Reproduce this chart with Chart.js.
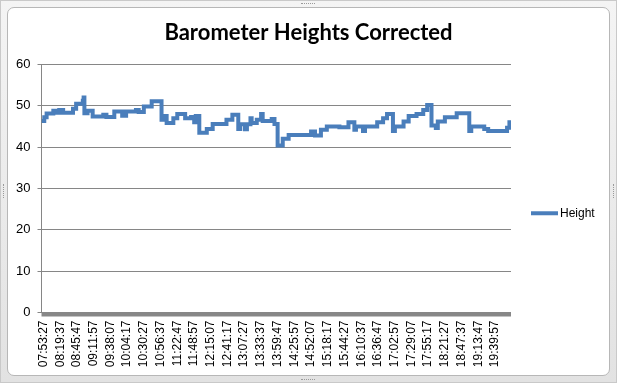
<!DOCTYPE html>
<html>
<head>
    <title>Barometer Heights Corrected</title>
    <script src="https://cdn.jsdelivr.net/npm/chart.js"></script>
    <style>
        html, body { margin: 0; padding: 0; }
        body { width: 617px; height: 383px; position: relative; overflow: hidden; background: #e9e9e9; }
        .frame {
            position: absolute; left: 0; top: 0; width: 615px; height: 381px;
            border: 1px solid #c9c9c9;
            background: linear-gradient(#f4f4f4, #e2e2e2);
        }
        .inner {
            position: absolute; left: 7px; top: 7px; width: 601px; height: 367px;
            background: #fff; border: 1px solid #b7b7b7; border-radius: 7px;
        }
        .grip { position: absolute; border-top: 1px dotted #9a9a9a; width: 14px; height: 0; }
        .grip.v { border-top: none; border-left: 1px dotted #9a9a9a; width: 0; height: 14px; }
        #chart { position: absolute; left: 0; top: 0; }
    </style>
</head>
<body>
    <div class="frame"></div>
    <div class="inner"></div>
    <div class="grip" style="left:301px; top:3px;"></div>
    <div class="grip" style="left:301px; top:379px;"></div>
    <div class="grip v" style="left:3px; top:184px;"></div>
    <div class="grip v" style="left:613px; top:184px;"></div>
    <canvas id="chart" width="617" height="383"></canvas>

<script>
    // values (step changes of the Height series)
    const times = [
        '07:50:22', '07:54:41', '07:58:23', '08:08:51', '08:15:00', '08:18:05', '08:24:14', '08:39:38',
        '08:44:33', '08:55:01', '08:56:15', '08:57:29', '09:02:24', '09:10:25', '09:27:02', '09:31:57',
        '09:44:16', '09:56:35', '10:02:44', '10:18:08', '10:22:26', '10:30:27', '10:42:45', '10:58:09',
        '11:04:18', '11:06:09', '11:16:37', '11:22:47', '11:35:05', '11:44:20', '11:49:15', '11:51:43',
        '11:57:15', '12:08:57', '12:18:11', '12:39:44', '12:48:58', '12:58:12', '13:01:17', '13:08:40',
        '13:11:45', '13:17:17', '13:19:08', '13:27:08', '13:33:55', '13:36:23', '13:50:32', '13:54:51',
        '13:59:46', '14:07:47', '14:17:01', '14:52:06', '14:58:16', '15:07:30', '15:16:44', '15:36:26',
        '15:50:36', '15:59:50', '16:02:17', '16:13:22', '16:16:27', '16:35:32', '16:44:46', '16:50:56',
        '17:00:10', '17:03:14', '17:16:47', '17:24:47', '17:37:06', '17:47:34', '17:53:44', '18:00:30',
        '18:07:16', '18:10:21', '18:21:26', '18:39:54', '18:59:36', '19:02:41', '19:23:00', '19:29:09',
        '19:58:42', '20:02:24', '20:04:52'
    ];
    const heights = [
        46.3, 47.2, 48.1, 48.8, 48.3, 49.0, 48.3, 49.3,
        50.5, 51.2, 52.0, 48.2, 48.8, 47.4, 47.8, 47.3,
        48.6, 47.6, 48.6, 49.0, 48.5, 49.8, 51.1, 46.6,
        47.5, 45.8, 47.0, 48.0, 47.0, 47.3, 46.0, 47.5,
        43.5, 44.4, 45.6, 46.6, 47.8, 44.4, 45.5, 44.3,
        45.5, 47.0, 45.8, 46.6, 48.0, 46.3, 46.8, 45.6,
        40.4, 42.0, 42.9, 43.8, 42.8, 44.2, 45.0, 44.8,
        46.0, 44.2, 45.0, 43.9, 45.0, 46.0, 47.0, 48.0,
        43.9, 45.0, 46.2, 47.5, 48.0, 49.0, 50.2, 45.2,
        44.6, 46.2, 47.2, 48.2, 43.9, 45.0, 44.4, 43.9,
        44.7, 46.0, 46.0
    ];
    const tickLabels = [
        '07:53:27', '08:19:37', '08:45:47', '09:11:57', '09:38:07', '10:04:17', '10:30:27',
        '10:56:37', '11:22:47', '11:48:57', '12:15:07', '12:41:17', '13:07:27', '13:33:37',
        '13:59:47', '14:25:57', '14:52:07', '15:18:17', '15:44:27', '16:10:37', '16:36:47',
        '17:02:57', '17:29:07', '17:55:17', '18:21:27', '18:47:37', '19:13:47', '19:39:57'
    ];
    const yTicks = [0, 10, 20, 30, 40, 50, 60];

    function toSec(t) {
        const p = t.split(':').map(Number);
        return p[0] * 3600 + p[1] * 60 + p[2];
    }

    const blue = '#4a7ebb';
    const points = times.map((t, i) => ({ x: toSec(t), y: heights[i] }));

    // thick grey band under the category axis + line legend on the right
    const extras = {
        id: 'extras',
        afterDatasetsDraw(chart) {
            const a = chart.chartArea;
            const ctx = chart.ctx;
            ctx.save();
            ctx.fillStyle = '#878787';
            ctx.fillRect(a.left, a.bottom, a.right - a.left, 4);
            const lx = a.right + 20;
            const ly = a.top + (a.bottom - a.top) * 0.6;
            ctx.strokeStyle = blue;
            ctx.lineWidth = 4;
            ctx.beginPath();
            ctx.moveTo(lx, ly);
            ctx.lineTo(lx + 27, ly);
            ctx.stroke();
            ctx.fillStyle = '#000';
            ctx.font = '12px "Liberation Sans", Arial, sans-serif';
            ctx.textBaseline = 'middle';
            ctx.fillText('Height', lx + 29, ly);
            ctx.restore();
        }
    };

    new Chart(document.getElementById('chart'), {
        type: 'line',
        data: {
            datasets: [{
                label: 'Height',
                data: points,
                borderColor: blue,
                backgroundColor: blue,
                borderWidth: 4,
                stepped: true,
                pointRadius: 0,
                fill: false
            }]
        },
        options: {
            responsive: false,
            animation: false,
            devicePixelRatio: 1,
            layout: { padding: 0 },
            plugins: {
                legend: { display: false },
                tooltip: { enabled: false },
                title: {
                    display: true,
                    text: 'Barometer Heights Corrected',
                    color: '#000',
                    font: { family: 'Lato', weight: 'bold', size: 22 },
                    padding: { top: 19.5, bottom: 18.5 }
                }
            },
            scales: {
                x: {
                    type: 'linear',
                    min: toSec('07:50:22'),
                    max: toSec('20:04:52'),
                    afterBuildTicks: s => { s.ticks = tickLabels.map(t => ({ value: toSec(t) })); },
                    afterFit: s => { s.height = 70.5; },
                    grid: { display: false, drawTicks: false },
                    border: { display: false },
                    ticks: {
                        autoSkip: false,
                        minRotation: 90,
                        maxRotation: 90,
                        padding: 8,
                        color: '#000',
                        font: { family: 'Liberation Sans', size: 12 },
                        callback: (v, i) => tickLabels[i]
                    }
                },
                y: {
                    min: 0,
                    max: 60,
                    afterBuildTicks: s => { s.ticks = yTicks.map(v => ({ value: v })); },
                    afterFit: s => { s.width = 41.5; },
                    grid: { color: '#868686', tickLength: 4 },
                    border: { color: '#868686' },
                    ticks: {
                        padding: 7,
                        color: '#000',
                        font: { family: 'Liberation Sans', size: 13 }
                    }
                },
                // empty right-hand axis that only reserves room for the legend
                side: {
                    position: 'right',
                    min: 0,
                    max: 60,
                    afterFit: s => { s.width = 106; },
                    grid: { display: false, drawTicks: false },
                    border: { display: false },
                    ticks: { display: false }
                }
            }
        },
        plugins: [extras]
    });
</script>
</body>
</html>
